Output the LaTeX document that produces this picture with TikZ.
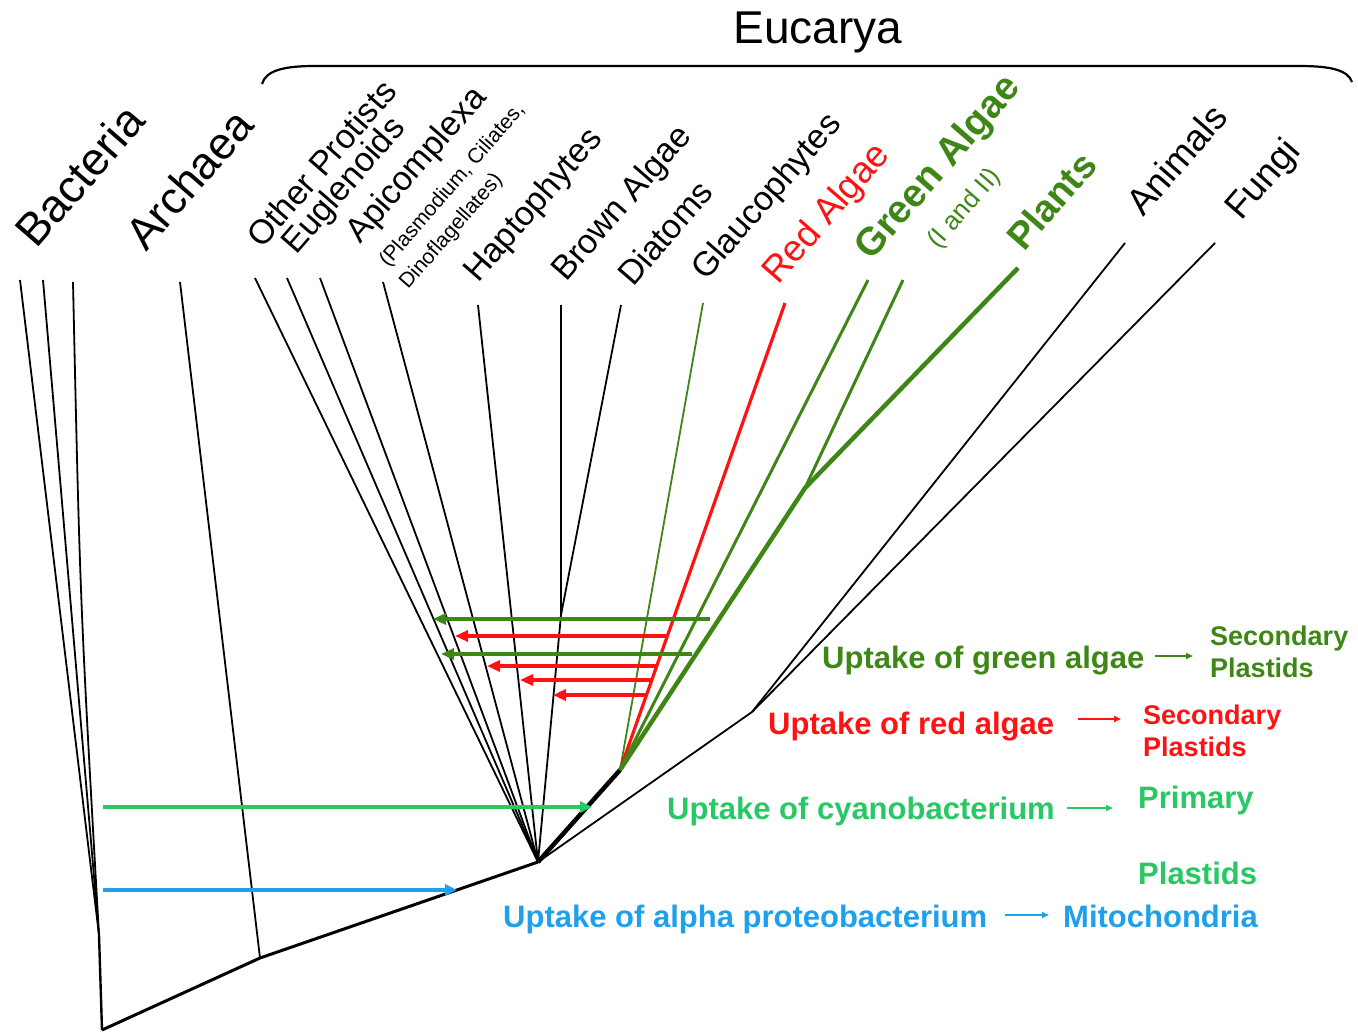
\documentclass[tikz,border=0pt]{standalone}
\usepackage{fontspec}
\setmainfont{Liberation Sans}
\usetikzlibrary{arrows.meta}
\definecolor{dkgreen}{RGB}{62,135,22}
\definecolor{myred}{RGB}{255,18,18}
\definecolor{cyano}{RGB}{40,200,100}
\definecolor{myblue}{RGB}{30,160,235}
\begin{document}
\begin{tikzpicture}[x=1pt,y=-1pt,
  branch/.style={line width=1.8pt, black},
  trunk/.style={line width=3pt, black, line join=round},
  lab/.style={rotate=49, anchor=base west, inner sep=0pt},
  transfer/.style={-{Triangle[length=13pt,width=11pt]}, line width=4pt},
  smallarr/.style={-{Triangle[length=7pt,width=6pt]}, line width=1.8pt},
  uptxt/.style={anchor=base west, inner sep=0pt, font=\bfseries\fontsize{31}{31}\selectfont},
  sectxt/.style={anchor=base west, inner sep=0pt, font=\bfseries\fontsize{27}{27}\selectfont}
]
\useasboundingbox (0,0) rectangle (1358,1033);

% ---------- coordinates ----------
\coordinate (root) at (102,1030);
\coordinate (bj) at (99,935);
\coordinate (b1) at (20,280);
\coordinate (b2) at (43,280);
\coordinate (b3) at (73,282);
\coordinate (aj) at (260,958);
\coordinate (arch) at (180,282);
\coordinate (ej) at (538,862);
\coordinate (op) at (255,278);
\coordinate (eu) at (287,278);
\coordinate (ap) at (320,278);
\coordinate (pl) at (383,282);
\coordinate (ha) at (478,305);
\coordinate (bd) at (561,615);
\coordinate (br) at (561,305);
\coordinate (di) at (621,305);
\coordinate (pj) at (620,770);
\coordinate (gl) at (703,303);
\coordinate (ra) at (785,303);
\coordinate (ga1) at (868,280);
\coordinate (gj) at (805,488);
\coordinate (ga2) at (903,280);
\coordinate (pt) at (1018,268);
\coordinate (afj) at (752,712);
\coordinate (an) at (1125,243);
\coordinate (fu) at (1215,243);

% ---------- tree ----------
\draw[line width=2.4pt] (bj) -- (root);
\draw[trunk] (root) -- (aj) -- (ej);
\draw[branch] (b1) -- (bj);
\draw[branch] (b2) -- (bj);
\draw[branch] (b3) .. controls (80,600) .. (bj);
\draw[branch] (arch) -- (aj);
\draw[branch] (op) -- (ej);
\draw[branch] (eu) -- (ej);
\draw[branch] (ap) -- (ej);
\draw[branch] (pl) -- (ej);
\draw[branch] (ha) -- (ej);
\draw[branch] (br) -- (bd);
\draw[branch] (di) -- (bd);
\draw[branch] (bd) -- (ej);
\draw[branch] (ej) -- (afj);
\draw[branch] (afj) -- (an);
\draw[branch] (afj) -- (fu);
\draw[line width=4.5pt] (ej) -- (pj);
\draw[dkgreen, line width=1.8pt] (pj) -- (gl);
\draw[myred, line width=3.2pt] (pj) -- (ra);
\draw[dkgreen, line width=3pt] (pj) -- (ga1);
\draw[dkgreen, line width=3pt] (gj) -- (ga2);
\draw[dkgreen, line width=4.5pt, line join=round] (pj) -- (gj) -- (pt);

% ---------- transfer arrows ----------
\coordinate (g1s) at (710,619); \coordinate (g1e) at (433,619);
\coordinate (r1s) at (667,636); \coordinate (r1e) at (455,636);
\coordinate (g2s) at (692,654); \coordinate (g2e) at (441,654);
\coordinate (r2s) at (657,666); \coordinate (r2e) at (487,666);
\coordinate (r3s) at (651,680); \coordinate (r3e) at (520,680);
\coordinate (r4s) at (647,695); \coordinate (r4e) at (553,695);
\draw[transfer, dkgreen] (g1s) -- (g1e);
\draw[transfer, myred, line width=4.5pt] (r1s) -- (r1e);
\draw[transfer, dkgreen] (g2s) -- (g2e);
\draw[transfer, myred, line width=4.5pt] (r2s) -- (r2e);
\draw[transfer, myred, line width=4.5pt] (r3s) -- (r3e);
\draw[transfer, myred, line width=4.5pt] (r4s) -- (r4e);

\coordinate (cys) at (103,807); \coordinate (cye) at (592,807);
\coordinate (bls) at (103,890); \coordinate (ble) at (457,890);
\draw[cyano, line width=3.2pt, -{Triangle[length=12pt,width=11pt]}] (cys) -- (cye);
\draw[myblue, line width=3.2pt, -{Triangle[length=12pt,width=11pt]}] (bls) -- (ble);

% ---------- Eucarya brace ----------
\draw[line width=2.2pt] (262,84) .. controls (266,70) and (285,66) .. (315,66) -- (1300,66) .. controls (1330,66) and (1348,70) .. (1352,82);
\node[font=\fontsize{46}{46}\selectfont, inner sep=0pt] (euc) at (818,32) {Eucarya};

% ---------- rotated labels ----------
\node[lab, font=\fontsize{46}{46}\selectfont] (lbac) at (36,250) {Bacteria};
\node[lab, font=\fontsize{45}{45}\selectfont] (larc) at (146,253) {Archaea};
\node[lab, font=\fontsize{34}{34}\selectfont] (lop) at (262,250) {Other Protists};
\node[lab, font=\fontsize{34}{34}\selectfont] (leu) at (296,256) {Euglenoids};
\node[lab, font=\fontsize{34}{34}\selectfont] (lap) at (360,245) {Apicomplexa};
\node[lab, font=\fontsize{21}{21}\selectfont] (lpl) at (388,268) {(Plasmodium, Ciliates,};
\node[lab, font=\fontsize{21}{21}\selectfont] (ldi) at (408,290) {Dinoflagellates)};
\node[lab, font=\fontsize{34}{34}\selectfont] (lha) at (478,284) {Haptophytes};
\node[lab, font=\fontsize{34}{34}\selectfont] (lbr) at (566,283) {Brown Algae};
\node[lab, font=\fontsize{34}{34}\selectfont] (ldt) at (633,288) {Diatoms};
\node[lab, font=\fontsize{34}{34}\selectfont] (lgl) at (706,282) {Glaucophytes};
\node[lab, font=\fontsize{37}{37}\selectfont, text=myred] (lra) at (778,286) {Red Algae};
\node[lab, font=\bfseries\fontsize{39}{39}\selectfont, text=dkgreen] (lga) at (871,262) {Green Algae};
\node[lab, font=\fontsize{26}{26}\selectfont, text=dkgreen] (lga2) at (938,250) {(I and II)};
\node[lab, font=\bfseries\fontsize{38}{38}\selectfont, text=dkgreen] (lpt) at (1024,253) {Plants};
\node[lab, font=\fontsize{37}{37}\selectfont] (lan) at (1143,218) {Animals};
\node[lab, font=\fontsize{37}{37}\selectfont] (lfu) at (1241,222) {Fungi};

% ---------- legend texts ----------
\node[uptxt, text=dkgreen] (tg) at (822,668) {Uptake of green algae};
\coordinate (tgas) at (1155,656); \coordinate (tgae) at (1193,656);
\draw[smallarr, dkgreen] (tgas) -- (tgae);
\node[sectxt, text=dkgreen] (tgs1) at (1210,645) {Secondary};
\node[sectxt, text=dkgreen] (tgs2) at (1210,677) {Plastids};

\node[uptxt, text=myred] (tr) at (768,734) {Uptake of red algae};
\coordinate (tras) at (1078,719); \coordinate (trae) at (1121,719);
\draw[smallarr, myred] (tras) -- (trae);
\node[sectxt, text=myred] (trs1) at (1143,724) {Secondary};
\node[sectxt, text=myred] (trs2) at (1143,756) {Plastids};

\node[uptxt, text=cyano] (tc) at (667,819) {Uptake of cyanobacterium};
\coordinate (tcas) at (1067,808); \coordinate (tcae) at (1113,808);
\draw[smallarr, cyano] (tcas) -- (tcae);
\node[uptxt, text=cyano] (tcs1) at (1138,808) {Primary};
\node[uptxt, text=cyano] (tcs2) at (1138,884) {Plastids};

\node[uptxt, text=myblue] (tb) at (503,927) {Uptake of alpha proteobacterium};
\coordinate (tbas) at (1005,915); \coordinate (tbae) at (1049,915);
\draw[smallarr, myblue] (tbas) -- (tbae);
\node[uptxt, text=myblue] (tbs) at (1063,927) {Mitochondria};
\end{tikzpicture}
\end{document}
